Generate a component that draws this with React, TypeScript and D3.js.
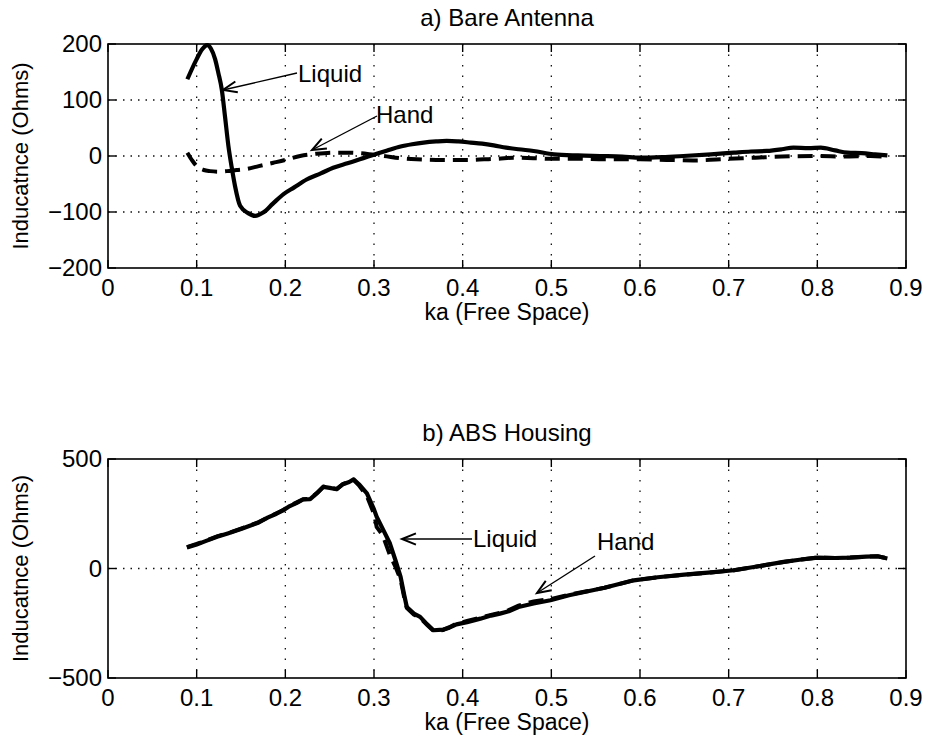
import React from "react";
import * as d3 from "d3";

// ---------- data ----------
const xTickValues = [0, 0.1, 0.2, 0.3, 0.4, 0.5, 0.6, 0.7, 0.8, 0.9];
const xTickLabels = ["0", "0.1", "0.2", "0.3", "0.4", "0.5", "0.6", "0.7", "0.8", "0.9"];

const topTitle = "a) Bare Antenna";
const bottomTitle = "b) ABS Housing";
const xLabel = "ka (Free Space)";
const yLabel = "Inducatnce (Ohms)";

const topYTicks = [-200, -100, 0, 100, 200];
const topYTickLabels = ["\u2212200", "\u2212100", "0", "100", "200"];
const bottomYTicks = [-500, 0, 500];
const bottomYTickLabels = ["\u2212500", "0", "500"];

// a) Bare Antenna — Liquid (solid)
const topLiquidKa = [0.0895, 0.1, 0.106, 0.112, 0.116, 0.1208, 0.1245, 0.1283, 0.132, 0.1358, 0.1395, 0.1433, 0.149, 0.158, 0.166, 0.175, 0.186, 0.198, 0.21, 0.224, 0.24, 0.254, 0.27, 0.284, 0.303, 0.315, 0.33, 0.343, 0.356, 0.37, 0.382, 0.395, 0.409, 0.422, 0.435, 0.449, 0.463, 0.48, 0.503, 0.53, 0.555, 0.58, 0.6, 0.625, 0.649, 0.68, 0.706, 0.725, 0.743, 0.76, 0.773, 0.79, 0.804, 0.82, 0.834, 0.85, 0.865, 0.879];
const topLiquidVal = [137, 173, 190, 198, 192, 173, 148, 119, 70, 18, -20, -54, -89, -102, -107, -101, -85, -68, -56, -42, -31, -21, -13, -6, 4, 10, 17, 21, 24, 26, 27, 26, 24, 22, 19, 15, 12, 9, 3, 1, 0, -1, -3, -2, 0, 3, 6, 8, 9, 12, 15, 14, 15, 10, 6, 5, 3, 1];

// a) Bare Antenna — Hand (dashed)
const topHandKa = [0.0895, 0.095, 0.1, 0.108, 0.115, 0.125, 0.134, 0.145, 0.1565, 0.17, 0.1866, 0.2, 0.2167, 0.235, 0.254, 0.27, 0.284, 0.3, 0.311, 0.33, 0.348, 0.37, 0.386, 0.405, 0.424, 0.44, 0.457, 0.48, 0.5, 0.53, 0.56, 0.6, 0.63, 0.66, 0.7, 0.73, 0.76, 0.8, 0.83, 0.86, 0.88];
const topHandVal = [6, -8, -18, -25, -27, -28, -27, -25, -23, -18, -12, -7, 0, 4, 6, 6, 5, 2, 0, -4, -6, -7, -7, -7, -6, -5, -3, -4, -5, -5, -6, -6, -7, -8, -5, -3, -1, 0, -1, 0, -2];

// b) ABS Housing — Liquid (solid)
const botLiquidKa = [0.089, 0.1, 0.11, 0.123, 0.135, 0.15, 0.16, 0.17, 0.18, 0.19, 0.198, 0.205, 0.213, 0.22, 0.228, 0.236, 0.243, 0.25, 0.258, 0.265, 0.272, 0.277, 0.283, 0.292, 0.3, 0.303, 0.31, 0.318, 0.324, 0.33, 0.334, 0.337, 0.345, 0.352, 0.36, 0.367, 0.378, 0.385, 0.393, 0.405, 0.42, 0.432, 0.442, 0.452, 0.463, 0.48, 0.499, 0.52, 0.54, 0.56, 0.593, 0.62, 0.65, 0.68, 0.706, 0.73, 0.762, 0.78, 0.8, 0.82, 0.837, 0.855, 0.868, 0.879];
const botLiquidVal = [96, 110, 125, 145, 160, 180, 195, 210, 232, 250, 267, 285, 300, 315, 317, 345, 373, 368, 362, 385, 395, 407, 385, 343, 270, 236, 180, 114, 40, -38, -120, -176, -206, -221, -255, -282, -279, -270, -255, -245, -229, -215, -206, -195, -176, -160, -145, -122, -105, -88, -54, -40, -28, -18, -8, 8, 30, 40, 50, 48, 50, 54, 56, 46];

// b) ABS Housing — Hand (dashed)
const botHandKa = [0.089, 0.1, 0.11, 0.123, 0.135, 0.15, 0.16, 0.17, 0.18, 0.19, 0.198, 0.205, 0.213, 0.22, 0.228, 0.236, 0.243, 0.25, 0.258, 0.265, 0.272, 0.277, 0.283, 0.292, 0.3, 0.303, 0.31, 0.318, 0.324, 0.33, 0.334, 0.337, 0.345, 0.352, 0.36, 0.367, 0.378, 0.385, 0.393, 0.405, 0.42, 0.432, 0.442, 0.452, 0.463, 0.48, 0.499, 0.52, 0.54, 0.56, 0.593, 0.62, 0.65, 0.68, 0.706, 0.73, 0.762, 0.78, 0.8, 0.82, 0.837, 0.855, 0.868, 0.879];
const botHandVal = [98, 112, 126, 147, 161, 182, 196, 212, 233, 252, 268, 286, 302, 316, 318, 346, 374, 369, 363, 386, 396, 405, 380, 330, 250, 190, 150, 60, 10, -50, -130, -180, -210, -225, -258, -284, -281, -268, -252, -240, -225, -212, -202, -190, -170, -150, -140, -120, -104, -88, -54, -40, -28, -18, -8, 8, 30, 40, 50, 48, 50, 54, 56, 46];

// ---------- layout ----------
const W = 928;
const H = 748;
const X0 = 108;
const X1 = 906;
const FONT = "'Liberation Sans', Arial, Helvetica, sans-serif";

type Pt = [number, number];
const zip = (a: number[], b: number[]): Pt[] => a.map((v, i) => [v, b[i]]);

function Arrow({ x1, y1, x2, y2 }: { x1: number; y1: number; x2: number; y2: number }) {
  const ang = Math.atan2(y2 - y1, x2 - x1);
  const L = 15;
  const spread = 0.38;
  const ax = x2 - L * Math.cos(ang - spread);
  const ay = y2 - L * Math.sin(ang - spread);
  const bx = x2 - L * Math.cos(ang + spread);
  const by = y2 - L * Math.sin(ang + spread);
  return (
    <g stroke="#000" fill="none" strokeWidth={1.4}>
      <line x1={x1} y1={y1} x2={x2} y2={y2} />
      <path d={`M${ax},${ay} L${x2},${y2} L${bx},${by}`} strokeWidth={2} />
    </g>
  );
}

function Panel({
  y0, y1, domain, yTicks, yTickLabels, title, solid, dashed, smooth, annotations,
}: {
  y0: number; y1: number; domain: [number, number]; yTicks: number[]; yTickLabels: string[];
  title: string; solid: Pt[]; dashed: Pt[]; smooth: boolean; annotations: React.ReactNode;
}) {
  const x = d3.scaleLinear().domain([0, 0.9]).range([X0, X1]);
  const y = d3.scaleLinear().domain(domain).range([y1, y0]);
  const line = d3.line<Pt>().x((d) => x(d[0])).y((d) => y(d[1]))
    .curve(smooth ? d3.curveMonotoneX : d3.curveLinear);
  const cy = (y0 + y1) / 2;
  return (
    <g>
      {/* grid */}
      <g stroke="#111" strokeWidth={1.3}>
        {xTickValues.slice(1, -1).map((t) => (
          <line key={"gx" + t} x1={x(t)} x2={x(t)} y1={y0} y2={y1} strokeDasharray="1.5 9" />
        ))}
        {yTicks.slice(1, -1).map((t) => (
          <line key={"gy" + t} x1={X0} x2={X1} y1={y(t)} y2={y(t)} strokeDasharray="1.5 6" />
        ))}
      </g>
      {/* curves */}
      <path d={line(dashed) || ""} fill="none" stroke="#000" strokeWidth={4} strokeDasharray="15 8" />
      <path d={line(solid) || ""} fill="none" stroke="#000" strokeWidth={4.2} strokeLinejoin="round" />
      {/* frame and ticks */}
      <rect x={X0} y={y0} width={X1 - X0} height={y1 - y0} fill="none" stroke="#000" strokeWidth={1.6} />
      <g stroke="#000" strokeWidth={1.4}>
        {xTickValues.map((t) => (
          <g key={"tx" + t}>
            <line x1={x(t)} x2={x(t)} y1={y1} y2={y1 - 8} />
            <line x1={x(t)} x2={x(t)} y1={y0} y2={y0 + 8} />
          </g>
        ))}
        {yTicks.map((t) => (
          <g key={"ty" + t}>
            <line x1={X0} x2={X0 + 8} y1={y(t)} y2={y(t)} />
            <line x1={X1} x2={X1 - 8} y1={y(t)} y2={y(t)} />
          </g>
        ))}
      </g>
      {/* tick labels */}
      <g fontFamily={FONT} fontSize={24} fill="#000">
        {xTickValues.map((t, i) => (
          <text key={"lx" + t} x={x(t)} y={y1 + 28} textAnchor="middle">{xTickLabels[i]}</text>
        ))}
        {yTicks.map((t, i) => (
          <text key={"ly" + t} x={102} y={y(t) + 8} textAnchor="end">{yTickLabels[i]}</text>
        ))}
        <text x={(X0 + X1) / 2} y={y1 + 52} textAnchor="middle" fontSize={23}>{xLabel}</text>
        <text x={(X0 + X1) / 2} y={y0 - 18} textAnchor="middle" fontSize={24}>{title}</text>
        <text transform={`translate(28,${cy}) rotate(-90)`} textAnchor="middle" fontSize={22}>{yLabel}</text>
      </g>
      {annotations}
    </g>
  );
}

export default function App() {
  const font = { fontFamily: FONT, fontSize: 24 };
  return (
    <svg width={W} height={H} viewBox={`0 0 ${W} ${H}`}
      style={{ position: "absolute", left: 0, top: 0, background: "#fff" }}>
      <rect width={W} height={H} fill="#fff" />
      <Panel
        y0={44} y1={268} domain={[-200, 200]} yTicks={topYTicks} yTickLabels={topYTickLabels}
        title={topTitle} solid={zip(topLiquidKa, topLiquidVal)} dashed={zip(topHandKa, topHandVal)} smooth={true}
        annotations={
          <g>
            <Arrow x1={297} y1={73} x2={223} y2={90} />
            <text x={298} y={82} {...font}>Liquid</text>
            <Arrow x1={377} y1={116} x2={312} y2={150} />
            <text x={376} y={123} {...font}>Hand</text>
          </g>
        }
      />
      <Panel
        y0={459} y1={678} domain={[-500, 500]} yTicks={bottomYTicks} yTickLabels={bottomYTickLabels}
        title={bottomTitle} solid={zip(botLiquidKa, botLiquidVal)} dashed={zip(botHandKa, botHandVal)} smooth={false}
        annotations={
          <g>
            <Arrow x1={472} y1={539} x2={402} y2={539} />
            <text x={473} y={547} {...font}>Liquid</text>
            <Arrow x1={595} y1={556} x2={537} y2={593} />
            <text x={597} y={550} {...font}>Hand</text>
          </g>
        }
      />
    </svg>
  );
}
